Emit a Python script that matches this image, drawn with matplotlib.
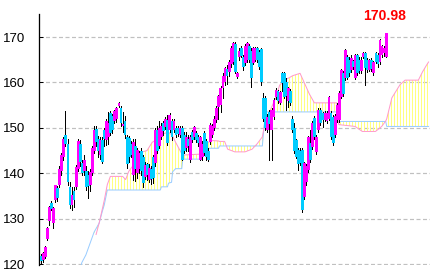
import matplotlib
matplotlib.use("Agg")
import matplotlib.pyplot as plt
import numpy as np

# ---- candle data (open, high, low, close) ----
opens = [121.8,120.8,121.6,125.5,129.5,133.5,129.0,134.0,136.8,137.5,
         140.5,143.5,148.5,146.5,137.0,133.0,136.0,137.0,141.0,146.5,
         142.2,140.5,140.5,139.5,137.5,140.0,145.0,149.8,147.5,144.0,
         147.3,149.5,147.3,148.0,153.3,152.5,151.5,152.0,154.7,154.3,
         150.3,151.5,148.0,147.8,146.5,139.5,146.0,140.0,141.0,145.0,
         143.5,139.2,142.0,138.5,141.0,143.6,142.2,149.5,146.0,148.0,
         151.0,150.2,151.7,149.5,151.5,149.5,150.0,150.0,148.5,150.0,
         148.5,145.5,147.5,143.0,149.0,148.0,148.8,148.0,143.0,143.5,
         148.9,147.0,145.0,146.9,148.5,150.0,151.7,154.5,155.0,158.8,
         160.0,163.0,162.3,164.0,164.5,168.5,161.2,165.5,167.6,165.6,
         164.3,165.0,168.0,167.0,164.3,165.0,167.5,166.8,167.3,156.6,
         156.6,149.5,153.5,149.5,152.4,156.8,158.0,155.5,162.0,162.0,
         160.0,156.0,158.0,152.0,150.0,147.3,145.1,145.0,145.1,134.8,
         138.0,140.7,146.7,145.8,152.2,144.6,149.5,154.0,153.2,151.7,
         151.5,152.0,153.3,152.4,148.5,151.7,151.7,156.8,162.0,161.0,
         165.6,165.0,162.7,164.8,161.0,166.0,165.0,162.5,165.6,166.5,
         165.0,162.7,165.0,162.0,166.5,166.0,164.5,166.0,166.5,165.6]
highs = [122.2,122.6,124.0,128.2,132.8,133.8,132.6,137.5,137.2,141.5,
         144.5,148.0,153.7,147.5,138.0,137.0,137.0,141.8,147.5,147.3,
         143.0,144.0,141.5,140.5,141.0,146.0,150.3,150.4,148.2,148.0,
         148.0,150.0,152.0,153.5,153.7,153.0,154.0,154.6,155.6,154.8,
         153.5,152.5,148.5,148.2,147.0,147.5,147.5,145.5,145.0,145.5,
         144.0,142.5,142.2,142.0,141.5,144.0,150.0,150.5,151.5,151.0,
         151.5,152.3,152.8,153.2,152.0,152.0,150.5,150.3,150.4,150.3,
         149.0,149.0,148.5,148.5,149.5,150.5,149.2,148.5,148.3,147.0,
         149.2,147.5,145.5,151.0,150.8,152.5,154.8,157.3,159.3,162.0,
         163.5,163.8,165.0,168.0,169.0,168.8,162.3,167.5,168.0,166.0,
         168.5,169.0,168.5,167.5,167.8,167.8,167.8,167.2,167.6,157.7,
         157.0,153.0,154.0,154.3,156.5,158.7,158.3,158.2,162.3,162.3,
         161.0,159.0,158.5,152.5,151.0,147.6,145.5,145.5,145.5,142.5,
         142.0,148.3,149.5,151.5,152.5,148.5,154.3,154.3,153.5,153.6,
         153.8,157.0,153.6,152.8,153.0,155.5,158.0,163.0,162.5,167.4,
         166.0,165.5,166.0,165.0,166.3,166.3,165.5,165.5,166.8,166.8,
         165.3,165.2,165.3,164.8,166.8,166.5,169.5,168.3,168.0,170.98]
lows = [120.3,120.5,121.4,125.2,128.5,131.8,128.0,133.6,133.8,137.0,
        139.5,142.8,146.0,137.4,132.3,131.9,132.5,136.5,140.5,141.5,
        139.5,139.5,136.3,134.5,136.0,139.5,144.5,146.0,143.5,143.2,
        142.2,146.0,146.3,146.5,148.4,148.8,151.0,151.3,154.5,150.5,
        149.0,147.8,141.2,142.5,143.5,138.5,138.3,139.0,140.0,139.5,
        137.0,138.8,138.5,138.0,137.6,137.8,141.5,144.5,145.5,147.5,
        148.5,149.8,146.3,149.0,147.3,149.0,148.0,148.2,148.0,142.9,
        144.5,144.8,145.0,142.5,146.8,147.5,146.8,146.0,142.8,143.0,
        144.0,143.0,142.7,146.5,148.0,149.5,151.3,152.0,153.5,156.5,
        159.5,159.7,161.5,163.5,164.0,162.0,161.0,165.0,165.5,162.8,
        163.8,164.5,164.5,159.0,164.0,164.7,164.5,163.0,159.4,151.5,
        149.5,149.0,142.9,143.0,152.0,156.3,155.5,155.2,158.0,156.5,
        154.0,154.6,155.0,149.0,144.5,143.3,140.7,141.8,131.5,134.3,
        137.5,140.3,142.5,145.3,147.5,144.2,149.0,150.6,150.2,151.5,
        151.0,151.7,147.5,146.2,148.0,151.3,151.3,156.5,157.0,160.5,
        160.7,161.5,162.3,163.0,160.7,161.6,162.0,162.0,165.3,159.4,
        162.3,162.5,162.6,161.7,164.2,163.5,164.0,165.5,165.8,165.5]
closes = [120.6,122.4,123.8,128.0,132.5,132.2,132.3,137.3,134.5,141.0,
          144.0,147.5,146.5,138.0,133.0,135.2,134.0,141.4,147.0,142.5,
          140.0,143.0,137.0,137.2,140.3,145.5,149.5,146.8,145.0,147.3,
          142.5,147.5,151.5,151.0,148.8,149.5,153.8,154.3,155.4,151.0,
          150.9,148.5,142.0,143.6,144.0,146.8,141.0,145.1,144.5,140.5,
          137.8,141.8,139.5,141.2,138.7,139.0,149.5,145.0,150.0,150.5,
          149.2,152.0,146.7,152.8,148.0,151.5,148.4,148.6,150.0,143.0,
          145.0,148.0,146.0,148.0,147.3,150.2,147.3,146.7,148.0,146.5,
          144.4,143.5,143.0,150.6,150.4,152.0,154.4,157.0,158.8,161.5,
          163.2,161.5,164.5,167.5,168.7,162.3,162.0,167.0,165.8,163.4,
          168.0,168.7,165.0,161.0,167.5,167.5,165.0,163.4,160.0,152.0,
          150.0,152.4,150.8,153.9,156.1,158.3,155.8,157.8,159.9,156.8,
          157.0,158.8,155.5,149.5,145.0,143.6,142.0,142.2,131.9,142.2,
          141.5,148.0,143.0,151.1,148.0,148.0,154.0,151.0,151.8,153.3,
          153.3,156.8,148.0,146.7,152.5,155.0,157.7,162.7,157.5,167.1,
          161.0,162.0,165.4,163.3,166.0,162.0,162.5,165.0,166.5,163.2,
          162.7,165.0,163.0,164.5,164.5,164.0,169.3,168.0,167.5,170.98]

# ---- cloud spans (period index, leading span B = blue, leading span A = pink) ----
span_x = [19, 20, 22, 24, 26, 27, 28.5, 30, 31, 32.5, 34, 40, 41.5, 43, 46, 48.5,
          52, 54.5, 57, 58.5, 59, 62, 62.5, 64, 64.5, 66, 69, 69.5, 78, 80.5, 84,
          87, 87.5, 90, 91.5, 95, 100, 103.5, 106, 108.5, 110, 112, 115, 117,
          119.5, 123.5, 127, 129, 131.5, 134, 145, 145.5, 146, 154, 157.5, 164,
          167, 169, 169.5, 172, 176, 178.5, 185, 187, 189, 190]
span_b = [118.5, 120.3, 122.0, 124.5, 127.0, 127.8, 129.0, 131.5, 133.0, 136.3,
          136.3, 136.3, 136.3, 136.3, 136.3, 136.3, 136.3, 136.3, 136.3, 136.3,
          137.0, 137.0, 137.8, 138.0, 140.3, 141.0, 141.0, 143.1, 143.1, 145.5,
          145.5, 145.5, 146.0, 146.0, 146.0, 146.0, 146.0, 146.0, 146.0, 146.0,
          153.5, 153.5, 153.5, 153.5, 153.5, 153.5, 153.5, 153.5, 153.5, 153.5,
          153.5, 151.4, 151.4, 151.4, 151.4, 151.4, 151.4, 151.4, 150.3, 150.3,
          150.3, 150.3, 150.3, 150.3, 150.3, 150.3]
span_a = [np.nan, np.nan, np.nan, np.nan, np.nan, 126.5, 129.0, 132.0, 134.0, 137.5,
          139.3, 139.3, 138.6, 140.4, 142.2, 144.5, 145.0, 146.8, 147.5, 148.0,
          148.5, 149.0, 149.0, 148.5, 148.2, 146.8, 144.3, 144.0, 144.2, 146.5,
          147.2, 147.1, 147.0, 147.0, 145.3, 144.7, 144.7, 145.3, 146.5, 148.0,
          151.7, 153.5, 156.5, 159.4, 160.5, 161.5, 162.0, 160.0, 157.5, 155.5,
          155.5, 152.0, 150.7, 150.3, 149.2, 149.2, 150.3, 151.5, 152.0, 156.6,
          159.5, 160.5, 160.5, 162.3, 163.8, 164.5]

y_ticks = [120, 130, 140, 150, 160, 170]
last_label = "170.98"

DPI = 108
PX = 72.0 / DPI  # points per pixel

plt.rcParams['hatch.linewidth'] = 1.0 * PX
plt.rcParams['hatch.color'] = '#ffff80'
plt.rcParams['lines.scale_dashes'] = False
fam = ['Liberation Sans Narrow', 'Liberation Sans', 'DejaVu Sans']

fig = plt.figure(figsize=(434 / DPI, 278 / DPI), dpi=DPI)
ax = fig.add_axes([39.5/434, 13/278, (430-39.5)/434, 251/278])

o = np.array(opens); h = np.array(highs); l = np.array(lows); c = np.array(closes)
idx = np.arange(len(o))
sx = np.array(span_x); sa = np.array(span_a); sb = np.array(span_b)

# cloud
valid = ~np.isnan(sa)
ax.fill_between(sx, np.where(valid, sa, sb), sb, where=valid, interpolate=True,
                facecolor='none', edgecolor='#ffff80', hatch='|'*6, linewidth=0, zorder=1)
ax.plot(sx, sb, color='#99ccff', lw=1.0 * PX, zorder=2)
ax.plot(sx, sa, color='#ff99cc', lw=1.0 * PX, zorder=2)

# candles
ax.vlines(idx, l, h, color='black', lw=1.0 * PX, zorder=3, antialiased=False)
up = c >= o
colors = np.where(up, '#ff00ff', '#00ccff')
bottoms = np.minimum(o, c)
heights = np.maximum(np.abs(c - o), 0.3)
ax.bar(idx + 0.2, heights, bottom=bottoms, width=1.4, color=colors, linewidth=0,
       zorder=4, antialiased=False)

ax.annotate(last_label, xy=(idx[-1], h[-1]), xytext=(-1 * PX, 10 * PX),
            textcoords='offset points', ha='center', va='bottom', color='#ff0000',
            fontweight='bold', fontsize=14 * PX, family=fam)

ax.set_xlim(-0.74, 190.7)
ax.set_ylim(119.78, 175.07)
ax.set_yticks(y_ticks)
ax.set_yticklabels([str(t) for t in y_ticks], family=fam, fontsize=13.2 * PX)
ax.set_xticks([])
ax.tick_params(axis='y', direction='in', length=4 * PX, width=1 * PX, pad=14.5 * PX,
               colors='black')
for s in ['top', 'right', 'bottom']:
    ax.spines[s].set_visible(False)
ax.spines['left'].set_linewidth(1.3 * PX)
ax.yaxis.grid(True, color='#c0c0c0', linestyle=(0, (4 * PX, 2.5 * PX)),
              linewidth=1.2 * PX, zorder=0)
ax.set_axisbelow(True)
ax.set_facecolor('white')

fig.savefig('out.png', dpi=DPI)
